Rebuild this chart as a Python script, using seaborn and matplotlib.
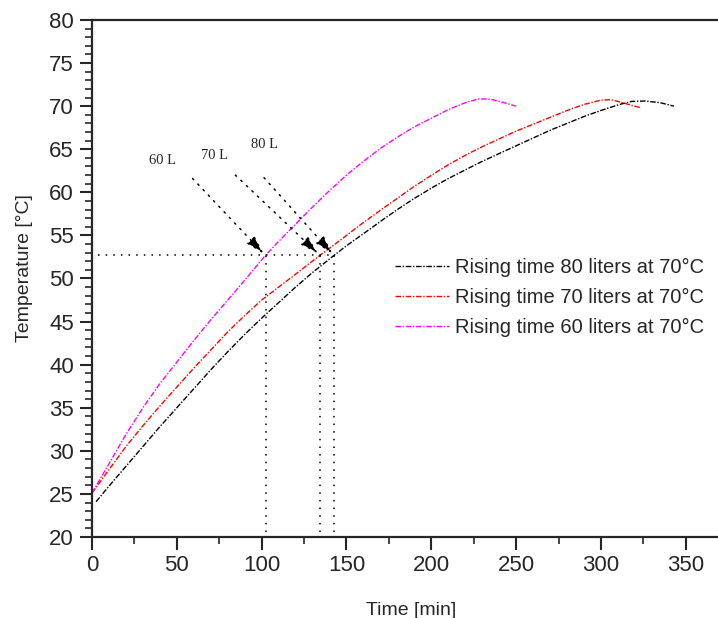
import numpy as np
import pandas as pd
import matplotlib
matplotlib.use("Agg")
import matplotlib.pyplot as plt
from matplotlib.ticker import MultipleLocator
import seaborn as sns

# Odečtené hodnoty z grafu (čas v min, teplota v °C)
t_80 = [2.4, 10, 20, 30, 40, 50, 60, 70, 80, 90, 100, 110, 120, 130, 142.8, 150, 160,
        172, 180, 190, 201, 210, 220, 229, 240, 250, 260, 270, 280, 290, 300, 311, 318,
        326, 335, 343]
T_80 = [24.1, 25.9, 28.2, 30.5, 32.8, 35.0, 37.2, 39.4, 41.5, 43.5, 45.4, 47.2, 49.0,
        50.7, 52.7, 53.8, 55.2, 56.9, 58.0, 59.3, 60.6, 61.6, 62.6, 63.5, 64.5, 65.4,
        66.3, 67.2, 68.0, 68.8, 69.5, 70.2, 70.55, 70.6, 70.4, 70.0]

t_70 = [0, 10, 20, 30, 40, 50, 60, 70, 80, 90, 100, 110, 120, 134.4, 140, 150, 160, 172,
        180, 190, 201, 210, 220, 229, 240, 250, 260, 270, 280, 290, 300, 306, 312, 318, 323]
T_70 = [25.1, 27.8, 30.5, 32.9, 35.2, 37.4, 39.6, 41.7, 43.8, 45.7, 47.5, 49.0, 50.5,
        52.7, 53.5, 55.0, 56.5, 58.2, 59.3, 60.7, 62.1, 63.2, 64.3, 65.2, 66.2, 67.1,
        67.9, 68.7, 69.5, 70.2, 70.7, 70.75, 70.45, 70.1, 69.85]

t_60 = [0, 10, 20, 30, 40, 50, 60, 70, 80, 90, 102.3, 110, 120, 130, 140, 150, 160, 170,
        180, 190, 200, 210, 220, 228, 235, 243, 250]
T_60 = [25.1, 28.5, 31.9, 35.0, 37.8, 40.3, 42.8, 45.2, 47.5, 49.8, 52.7, 54.3, 56.3,
        58.3, 60.2, 62.0, 63.6, 65.1, 66.4, 67.6, 68.6, 69.6, 70.4, 70.85, 70.8, 70.4, 70.0]

series_labels = ["Rising time 80 liters at 70°C",
                 "Rising time 70 liters at 70°C",
                 "Rising time 60 liters at 70°C"]
series_colors = ["black", "red", "magenta"]

# Pomocné čáry (teplota 52.7 °C a časy dosažení)
guide_T = 52.7
guide_times = [102.3, 134.4, 142.8]
guide_start = 3.5
volume_labels = ["60 L", "70 L", "80 L"]
label_pos = [(41.3, 63.7), (72.0, 64.3), (101.4, 65.6)]
arrow_start = [(59.3, 61.6), (84.5, 62.0), (101.4, 61.7)]

sns.set_style("ticks")
plt.rcParams["font.family"] = ["Liberation Sans", "DejaVu Sans"]

fig = plt.figure(figsize=(7.18, 6.18), dpi=100)
ax = fig.add_axes([92 / 718, 81 / 618, 626 / 718, 517 / 618])

data = [(t_80, T_80), (t_70, T_70), (t_60, T_60)]
for (tt, TT), lab, col in zip(data, series_labels, series_colors):
    df = pd.DataFrame({"t": tt, "T": TT})
    sns.lineplot(data=df, x="t", y="T", ax=ax, color=col, label=lab,
                 linewidth=1.0, sort=False)
for line in ax.get_lines():
    line.set_dashes([4, 1.2, 1, 1.2])

dot = (0, (1, 4))
ax.plot([guide_start, max(guide_times)], [guide_T, guide_T], color="black",
        linestyle=dot, linewidth=1.1)
for gt in guide_times:
    ax.plot([gt, gt], [20.6, guide_T], color="black", linestyle=dot, linewidth=1.1)

for lab, (lx, ly), (sx, sy), gt in zip(volume_labels, label_pos, arrow_start, guide_times):
    ax.text(lx, ly, lab, family="Liberation Serif", fontsize=10.5, ha="center", va="center")
    ax.annotate("", xy=(gt - 1.2, guide_T + 0.2), xytext=(sx, sy),
                arrowprops=dict(arrowstyle="-|>,head_length=0.55,head_width=0.16",
                                mutation_scale=20, color="black", linestyle=dot,
                                linewidth=1.1, shrinkA=0, shrinkB=0))

ax.set_xlim(0, 369)
ax.set_ylim(20, 80)
ax.xaxis.set_major_locator(MultipleLocator(50))
ax.xaxis.set_minor_locator(MultipleLocator(25))
ax.yaxis.set_major_locator(MultipleLocator(5))
ax.yaxis.set_minor_locator(MultipleLocator(1))
ax.tick_params(which="major", direction="out", length=9, width=1.5, labelsize=16, pad=4)
ax.tick_params(which="minor", direction="out", length=5, width=1.2)
for side in ["left", "bottom", "top"]:
    ax.spines[side].set_linewidth(1.6)
ax.spines["right"].set_visible(False)

ax.set_xlabel("Time [min]", fontsize=14)
ax.set_ylabel("Temperature [°C]", fontsize=14)
ax.xaxis.set_label_coords(0.51, -0.125)
ax.yaxis.set_label_coords(-0.094, 0.52)

ax.legend(loc="upper left", bbox_to_anchor=(0.484, 0.540), frameon=False,
          fontsize=14.5, handlelength=2.7, handletextpad=0.3, labelspacing=0.55,
          borderpad=0, borderaxespad=0)

fig.savefig("out.png", dpi=100)
